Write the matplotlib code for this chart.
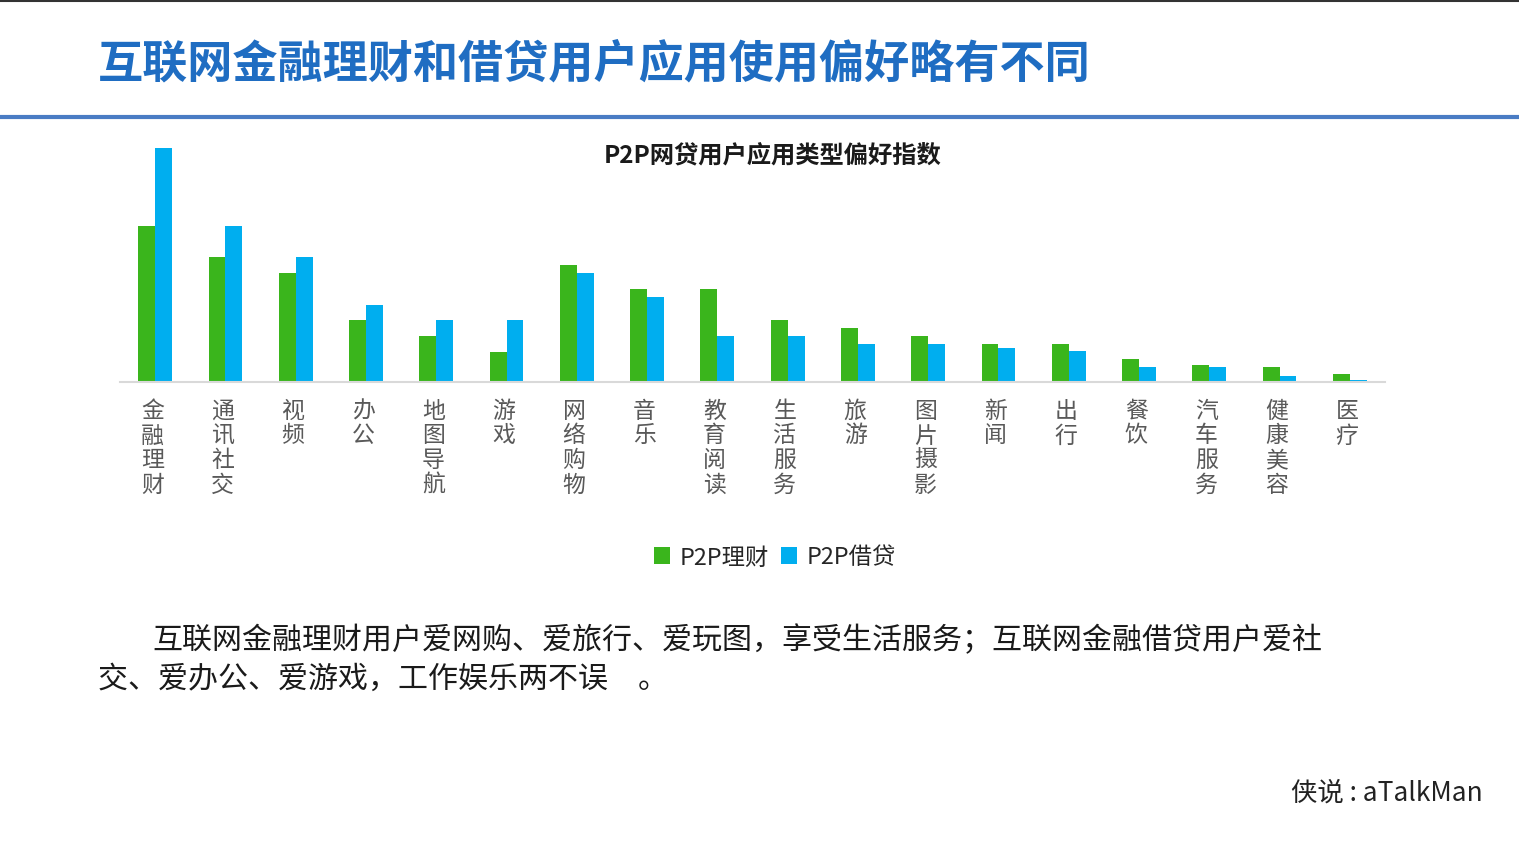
import matplotlib.pyplot as plt
import numpy as np
from matplotlib.lines import Line2D

plt.rcParams['font.family'] = ['Noto Sans CJK SC', 'DejaVu Sans']

# Data (index values)
categories = ['金融理财', '通讯社交', '视频', '办公', '地图导航', '游戏', '网络购物', '音乐',
              '教育阅读', '生活服务', '旅游', '图片摄影', '新闻', '出行', '餐饮', '汽车服务',
              '健康美容', '医疗']
licai = [156, 125, 109, 62, 46, 30, 117, 93, 93, 62, 54, 46, 38, 38, 23, 17, 15, 8]
jiedai = [234, 156, 125, 77, 62, 62, 109, 85, 46, 46, 38, 38, 34, 31, 15, 15, 6, 2]
series_names = ['P2P理财', 'P2P借贷']

W, H = 1519, 854
fig = plt.figure(figsize=(W / 100, H / 100), dpi=100)
fig.patch.set_facecolor('white')

# Top thin dark border and blue separator
fig.add_artist(Line2D([0, 1], [1 - 1.5 / H, 1 - 1.5 / H], color='#333333', lw=1.5))
fig.add_artist(Line2D([0, 1], [1 - 118 / H, 1 - 118 / H], color='#4A7CC4', lw=3))

# Page title
fig.text(98 / W, 1 - 65 / H, '互联网金融理财和借贷用户应用使用偏好略有不同', fontsize=32.5,
         fontweight='bold', color='#1F6DC2', ha='left', va='center')

# Chart
ax = fig.add_axes([120 / W, 1 - 383 / H, (1385 - 120) / W, (383 - 140) / H])
x = np.arange(len(categories))
bw = 0.24
ax.bar(x - bw / 2, licai, width=bw, color='#3AB51C', label=series_names[0])
ax.bar(x + bw / 2, jiedai, width=bw, color='#00AEEF', label=series_names[1])
ax.set_xlim(-0.5, len(categories) - 0.5)
ax.set_ylim(0, 243)

for s in ['top', 'right', 'left']:
    ax.spines[s].set_visible(False)
ax.spines['bottom'].set_color('#D9D9D9')
ax.spines['bottom'].set_linewidth(1.5)
ax.set_yticks([])
ax.set_xticks(x - 0.04)
ax.set_xticklabels(['\n'.join(c) for c in categories], fontsize=16.5, color='#595959',
                   va='top')
ax.tick_params(axis='x', length=0, pad=12)
for t in ax.get_xticklabels():
    t.set_linespacing(1.1)

fig.text(773 / W, 1 - 156 / H, 'P2P网贷用户应用类型偏好指数', fontsize=17.5, fontweight='bold',
         color='#1a1a1a', ha='center', va='center')

fig.legend(loc='center', bbox_to_anchor=(775 / W, 1 - 558 / H), ncol=2, frameon=False,
           fontsize=16.8, handlelength=0.7, handleheight=0.7, handletextpad=0.4,
           columnspacing=0.5, labelcolor='#262626')

# Body text
fig.text(152 / W, 1 - 641 / H,
         '互联网金融理财用户爱网购、爱旅行、爱玩图，享受生活服务；互联网金融借贷用户爱社',
         fontsize=21.6, color='#1a1a1a', ha='left', va='center')
fig.text(98 / W, 1 - 679 / H, '交、爱办公、爱游戏，工作娱乐两不误　。',
         fontsize=21.6, color='#1a1a1a', ha='left', va='center')

# Watermark
fig.text(1483 / W, 1 - 793 / H, '侠说 : aTalkMan', fontsize=19, color='#222222',
         ha='right', va='center')

fig.savefig('out.png', dpi=100)
